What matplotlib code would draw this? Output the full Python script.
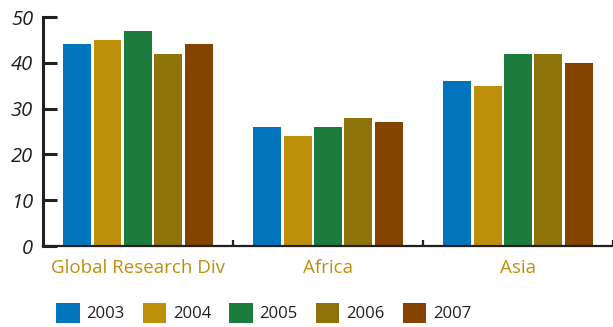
import numpy as np
import matplotlib.pyplot as plt
from matplotlib.patches import Patch

plt.rcParams['font.family'] = ['Open Sans', 'DejaVu Sans']

# data
regions = ["Global Research Div", "Africa", "Asia"]
years = ["2003", "2004", "2005", "2006", "2007"]
v2003 = [44, 26, 36]
v2004 = [45, 24, 35]
v2005 = [47, 26, 42]
v2006 = [42, 28, 42]
v2007 = [44, 27, 40]
series = [v2003, v2004, v2005, v2006, v2007]
colors = ['#0075be', '#be8f0a', '#1c7c3e', '#8e730b', '#844400']
ink = '#231f20'

fig = plt.figure(figsize=(6.13, 3.27), dpi=100)
ax = fig.add_axes([0.070, 0.2477, 0.930, 0.7003])

x = np.arange(len(regions))
pitch = 0.16
width = 0.147
for i, (vals, c) in enumerate(zip(series, colors)):
    ax.bar(x + (i - 2) * pitch, vals, width, color=c, label=years[i])

ax.set_xlim(-0.5, 2.5)
ax.set_ylim(0, 50)
ax.set_yticks([0, 10, 20, 30, 40, 50])

for s in ['top', 'right']:
    ax.spines[s].set_visible(False)
ax.spines['left'].set_linewidth(2.2)
ax.spines['left'].set_color(ink)
ax.spines['bottom'].set_linewidth(1.6)
ax.spines['bottom'].set_color(ink)

ax.tick_params(axis='y', direction='in', length=10, width=2.2, color=ink,
               pad=7, labelsize=14.5, labelcolor=ink)
for t in ax.get_yticklabels():
    t.set_fontstyle('italic')

ax.set_xticks(x)
ax.set_xticklabels(regions)
ax.tick_params(axis='x', length=0, pad=9, labelsize=13.5, labelcolor='#be8f0a')
ax.set_xticks([0.5, 1.5, 2.5], minor=True)
ax.tick_params(axis='x', which='minor', direction='in', length=4, width=1.6, color=ink)

handles = [Patch(facecolor=c, label=y) for c, y in zip(colors, years)]
fig.legend(handles=handles, loc='center', bbox_to_anchor=(0.43, 0.043), ncol=5,
           frameon=False, fontsize=12, handlelength=1.4, handleheight=1.5,
           handletextpad=0.4, columnspacing=1.1, labelcolor=ink)

fig.savefig('out.png', dpi=100)
